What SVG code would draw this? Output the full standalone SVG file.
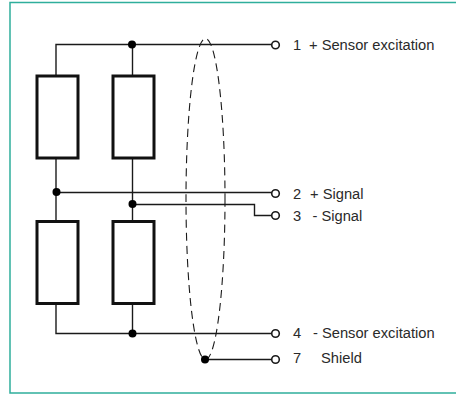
<svg xmlns="http://www.w3.org/2000/svg" width="456" height="394" viewBox="0 0 456 394">
<style>
.w{fill:none;stroke:#1a1a1a;stroke-width:1.4}
.r{fill:#fff;stroke:#111;stroke-width:3}
.d{fill:#000}
.t{fill:#fff;stroke:#1a1a1a;stroke-width:1.6}
text{font-family:"Liberation Sans",Arial,sans-serif;font-size:14.7px;fill:#2a2a2a}
</style>
<rect width="456" height="394" fill="#fff"/>
<path id="frame" d="M456 2.500H10V393H456" fill="none" stroke="#2fae9c" stroke-width="1.500"/>
<g id="connectors">
<path class="w" d="M56 75V44.500H272"/>
<path class="w" d="M132.500 44.500V75"/>
<path class="w" d="M56 158V220"/>
<path class="w" d="M132.500 158V220"/>
<path class="w" d="M56 192.500H272"/>
<path class="w" d="M132.500 204.500H254.500V215.500H272"/>
<path class="w" d="M56 304V333.500H272"/>
<path class="w" d="M132.500 304V333.500"/>
<path class="w" d="M205 359.500H272"/>
<ellipse cx="205.500" cy="199" rx="19.500" ry="160.500" fill="none" stroke="#1a1a1a" stroke-width="1.100" stroke-dasharray="8 5"/>
</g>
<g id="R1"><rect class="r" x="37" y="76" width="41" height="82"/></g>
<g id="R2"><rect class="r" x="113" y="76" width="41" height="82"/></g>
<g id="R3"><rect class="r" x="37" y="221.500" width="41" height="82"/></g>
<g id="R4"><rect class="r" x="113" y="221.500" width="41" height="82"/></g>
<g id="dots">
<circle class="d" cx="132" cy="44.500" r="4"/>
<circle class="d" cx="56.500" cy="192" r="4"/>
<circle class="d" cx="132.500" cy="204" r="4"/>
<circle class="d" cx="132.500" cy="333.500" r="4"/>
<circle class="d" cx="205" cy="359.500" r="4"/>
</g>
<g id="T1"><circle class="t" cx="275.500" cy="45" r="3.800"/><text x="293" y="50">1</text><text x="309" y="50">+ Sensor excitation</text></g>
<g id="T2"><circle class="t" cx="275.500" cy="193.500" r="3.800"/><text x="293" y="199">2</text><text x="310" y="199">+ Signal</text></g>
<g id="T3"><circle class="t" cx="275.500" cy="215.500" r="3.800"/><text x="293" y="221">3</text><text x="312.500" y="221">- Signal</text></g>
<g id="T4"><circle class="t" cx="275.500" cy="333.500" r="3.800"/><text x="293" y="338">4</text><text x="313" y="338">- Sensor excitation</text></g>
<g id="T7"><circle class="t" cx="275.500" cy="359.500" r="3.800"/><text x="293" y="363">7</text><text x="321" y="363">Shield</text></g>
</svg>
